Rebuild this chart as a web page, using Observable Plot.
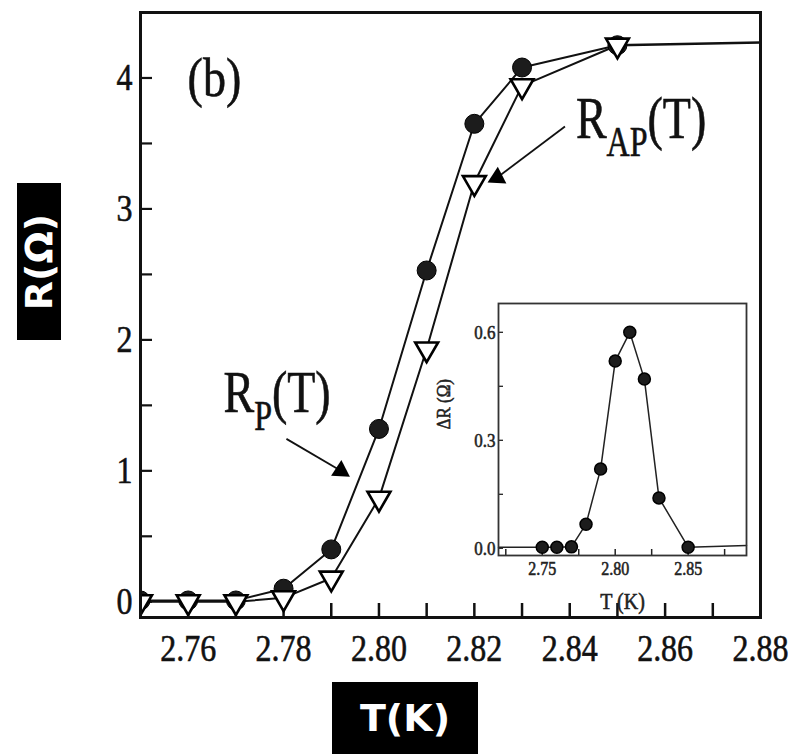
<!DOCTYPE html>
<html><head><meta charset="utf-8">
<script src="https://cdn.jsdelivr.net/npm/d3@7"></script>
<script src="https://cdn.jsdelivr.net/npm/@observablehq/plot@0.6"></script>
<style>
body{margin:0;background:#fff;}
#wrap{position:relative;width:797px;height:754px;overflow:hidden;background:#fff;}
#main{position:absolute;left:0;top:0;}
#inset{position:absolute;left:420px;top:290px;}
.lbl{position:absolute;background:#000;color:#fff;font-family:"DejaVu Sans";font-weight:bold;display:flex;align-items:center;justify-content:center;}
</style></head><body>
<div id="wrap">
 <div id="main"></div>
 <div id="inset"></div>
 <div class="lbl" style="left:17px;top:183px;width:44px;height:157px;"><span style="transform:rotate(-90deg);white-space:nowrap;font-size:38px;">R(Ω)</span></div>
 <div class="lbl" style="left:332px;top:682px;width:146px;height:72px;font-size:38px;">T(K)</div>
</div>
<script>
// ---- main panel data ----
const temps = [2.75, 2.76, 2.77, 2.78, 2.79, 2.80, 2.81, 2.82, 2.83, 2.85];
const rP    = [0.01, 0.01, 0.01, 0.10, 0.40, 1.32, 2.53, 3.65, 4.08, 4.25];
const rAP   = [0.00, 0.00, 0.00, 0.03, 0.18, 0.79, 1.93, 3.20, 3.94, 4.25];
const tailT = [2.85, 2.88];
const tailR = [4.25, 4.27];
const xTickAll = [2.76,2.77,2.78,2.79,2.80,2.81,2.82,2.83,2.84,2.85,2.86,2.87];
const xTickLabels = [2.76, 2.78, 2.80, 2.82, 2.84, 2.86, 2.88];
const yTickAll = [0, 0.5, 1, 1.5, 2, 2.5, 3, 3.5, 4];
const yTickLabels = [0, 1, 2, 3, 4];
// annotations
const annoText = ["(b)", "R_AP(T)", "R_P(T)"];
const annoT = [2.7655, 2.8413, 2.7674];
const annoR = [4.00, 3.69, 1.595];
const annoAnchor = ["middle", "start", "start"];
const arrowT1 = [2.7806, 2.8390];
const arrowR1 = [1.244, 3.63];
const arrowT2 = [2.7920, 2.8248];
const arrowR2 = [1.00, 3.24];
const arrowRot = [123, 243];
// ---- inset data ----
const dT  = [2.75, 2.76, 2.77, 2.78, 2.79, 2.80, 2.81, 2.82, 2.83, 2.85];
const dR  = [0.003, 0.003, 0.004, 0.067, 0.22, 0.52, 0.60, 0.47, 0.14, 0.003];
const dLineT = [2.72, 2.75, 2.76, 2.77, 2.78, 2.79, 2.80, 2.81, 2.82, 2.83, 2.85, 2.89];
const dLineR = [0.003, 0.003, 0.003, 0.004, 0.067, 0.22, 0.52, 0.60, 0.47, 0.14, 0.003, 0.008];
const insetXTicks = [2.725, 2.75, 2.775, 2.80, 2.825, 2.85, 2.875];
const insetXLabels = [2.75, 2.80, 2.85];
const insetYTicks = [0, 0.15, 0.3, 0.45, 0.6];
const insetYLabels = [0, 0.3, 0.6];

const rowsP = temps.map((t,i)=>({T:t, R:rP[i]}));
const rowsAP = temps.map((t,i)=>({T:t, R:rAP[i]}));
const rowsTail = tailT.map((t,i)=>({T:t, R:tailR[i]}));
const rowsAnno = annoText.map((s,i)=>({s, T:annoT[i], R:annoR[i], a:annoAnchor[i]}));
const rowsArrow = arrowT1.map((t,i)=>({x1:t, y1:arrowR1[i], x2:arrowT2[i], y2:arrowR2[i], rot:arrowRot[i]}));
const rowsD = dT.map((t,i)=>({T:t, R:dR[i]}));
const rowsDL = dLineT.map((t,i)=>({T:t, R:dLineR[i]}));

const M = {w: 797, h: 680, l: 140, r: 37, t: 12, b: 63, x: [2.75, 2.88], y: [-0.12, 4.5]};
const I = {w: 340, h: 330, l: 78, r: 14, t: 13, b: 65, x: [2.72, 2.89], y: [-0.02, 0.68]};
// inward ticks: short rules starting at the frame edge, length given in pixels
function inTicksX(data, D, len, sw, stroke) {
  const k = (D.y[1] - D.y[0]) / (D.h - D.t - D.b);
  return Plot.ruleX(data, {x: d => d, y1: D.y[0], y2: D.y[0] + len * k, stroke, strokeWidth: sw});
}
function inTicksY(data, D, len, sw, stroke) {
  const k = (D.x[1] - D.x[0]) / (D.w - D.l - D.r);
  return Plot.ruleY(data, {y: d => d, x1: D.x[0], x2: D.x[0] + len * k, stroke, strokeWidth: sw});
}

const serif = "Liberation Serif";
const main = Plot.plot({
  width: M.w, height: M.h,
  marginLeft: M.l, marginRight: M.r, marginTop: M.t, marginBottom: M.b,
  x: {domain: M.x},
  y: {domain: M.y},
  style: {background: "transparent", fontFamily: serif, color: "#111"},
  marks: [
    inTicksX(xTickAll, M, 14, 2.5, "#111"),
    inTicksY(yTickAll, M, 12, 2.2, "#111"),
    Plot.axisX({ticks: xTickLabels, tickSize: 0, tickPadding: 16, fontSize: 32, tickFormat: d3.format(".2f"), label: null}),
    Plot.axisY({ticks: yTickLabels, tickSize: 0, tickPadding: 8, fontSize: 32, tickFormat: d3.format("d"), label: null}),
    Plot.line(rowsP, {x: "T", y: "R", stroke: "#111", strokeWidth: 2}),
    Plot.line(rowsAP, {x: "T", y: "R", stroke: "#111", strokeWidth: 2}),
    Plot.line(rowsTail, {x: "T", y: "R", stroke: "#111", strokeWidth: 2.5}),
    Plot.dot(rowsP, {x: "T", y: "R", r: 9.5, fill: "#1c1c1c", stroke: "#000", strokeWidth: 1, clip: true}),
    Plot.dot(rowsAP, {x: "T", y: "R", symbol: "triangle", r: 8.5, rotate: 180, fill: "white", stroke: "#000", strokeWidth: 2.6, clip: true}),
    Plot.link(rowsArrow, {x1: "x1", y1: "y1", x2: "x2", y2: "y2", stroke: "#111", strokeWidth: 1.8}),
    Plot.dot(rowsArrow, {x: "x2", y: "y2", symbol: "triangle", r: 7, rotate: "rot", fill: "#000", stroke: "none"}),
    Plot.text(rowsAnno, {filter: d => d.a === "middle", x: "T", y: "R", text: "s", textAnchor: "middle", fontSize: 46, fill: "#111"}),
    Plot.text(rowsAnno, {filter: d => d.a === "start", x: "T", y: "R", text: "s", textAnchor: "start", fontSize: 46, fill: "#111"}),
    Plot.frame({stroke: "#111", strokeWidth: 3})
  ]
});

const inset = Plot.plot({
  width: I.w, height: I.h,
  marginLeft: I.l, marginTop: I.t, marginRight: I.r, marginBottom: I.b,
  x: {domain: I.x},
  y: {domain: I.y},
  style: {background: "transparent", fontFamily: serif, color: "#222"},
  marks: [
    inTicksX(insetXTicks, I, 6, 1.5, "#222"),
    inTicksY(insetYTicks, I, 5, 1.3, "#222"),
    Plot.axisX({ticks: insetXLabels, tickSize: 0, tickPadding: 6, fontSize: 16, tickFormat: d3.format(".2f"), label: null}),
    Plot.axisY({ticks: insetYLabels, tickSize: 0, tickPadding: 3, fontSize: 17, tickFormat: d3.format(".1f"), label: null}),
    Plot.line(rowsDL, {x: "T", y: "R", stroke: "#222", strokeWidth: 1.5}),
    Plot.dot(rowsD, {x: "T", y: "R", r: 6, fill: "#1c1c1c", stroke: "#000"}),
    Plot.text(["ΔR (Ω)"], {text: d => d, frameAnchor: "left", dx: -55, rotate: -90, fontSize: 17, fill: "#222"}),
    Plot.text(["T (K)"], {text: d => d, frameAnchor: "bottom", dy: 53, fontSize: 20, fill: "#222"}),
    Plot.frame({stroke: "#333", strokeWidth: 1.8})
  ]
});

document.getElementById("main").appendChild(main);
document.getElementById("inset").appendChild(inset);

// vertical stretch of serif text (reference glyphs are tall), slight heavier ink
function stretch(el, s, ink) {
  const tr = el.getAttribute("transform") || "";
  let pre = "";
  for (const a of ["x", "y"]) {
    const v = el.getAttribute(a);
    if (v != null && !/em$/.test(v) && !isNaN(+v)) {
      pre = a === "x" ? `translate(${+v},0) ` + pre : pre + `translate(0,${+v}) `;
      el.removeAttribute(a);
    }
  }
  el.setAttribute("transform", `${tr} ${pre} scale(1,${s})`);
  el.setAttribute("stroke", ink);
  el.setAttribute("stroke-width", 0.5);
}
d3.select(main).selectAll("text").each(function() {
  const t = this.textContent;
  const m = t.match(/^R_(\w+)\((\w)\)$/);
  if (m) {
    const el = d3.select(this);
    el.text(null);
    el.append("tspan").text("R");
    el.append("tspan").attr("font-size", "32px").attr("dy", 14).text(m[1]);
    el.append("tspan").attr("dy", -14).text("(" + m[2] + ")");
    stretch(this, 1.3, "#111");
  } else {
    stretch(this, 1.2, "#111");
  }
});
d3.select(inset).selectAll("text").each(function() { stretch(this, 1.15, "#222"); });
</script>
</body></html>
